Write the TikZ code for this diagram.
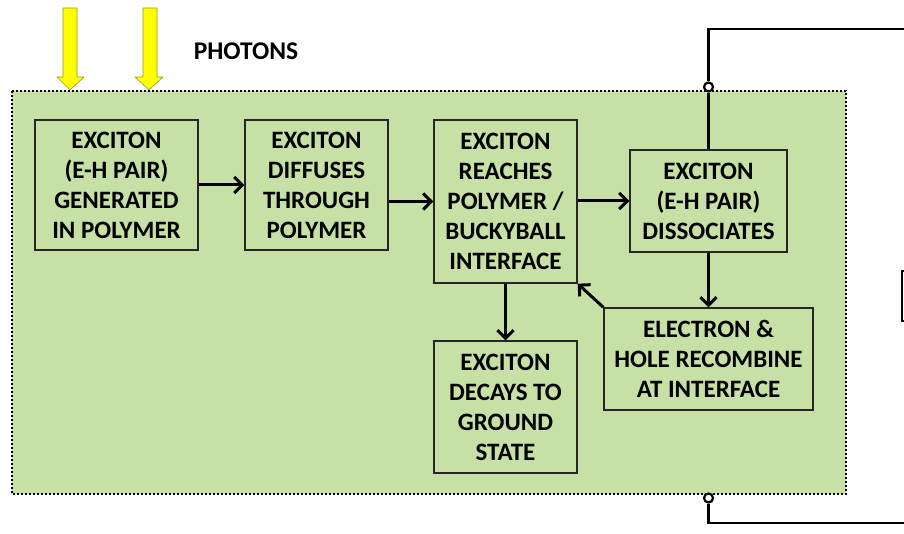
\documentclass[tikz,border=0pt]{standalone}
\usepackage{fontspec}
\setmainfont{Carlito}
\usetikzlibrary{arrows.meta}
\definecolor{panelgreen}{HTML}{C6E0A6}
\definecolor{photonyellow}{HTML}{FFFF00}
\definecolor{photonedge}{HTML}{9A9A20}
\tikzset{
  stepbox/.style={draw=black!85, line width=1.4pt, fill=panelgreen, align=center,
    inner sep=0pt, font=\fontsize{25}{30}\selectfont\bfseries},
  flow/.style={line width=3pt, -{Straight Barb[length=8pt,width=16pt,line width=3pt]}},
  wire/.style={line width=2.6pt},
  terminal/.style={circle, draw=black, line width=2.2pt, fill=white, minimum size=9pt, inner sep=0pt},
  photon/.style={fill=photonyellow, draw=photonedge, line width=0.6pt}
}
\begin{document}
\begin{tikzpicture}[x=1pt,y=-1pt]
\useasboundingbox (0,0) rectangle (904,534);
% panel
\fill[panelgreen] (12,91) rectangle (846,494);
\draw[line width=2.6pt, dash pattern=on 2pt off 2pt] (12,91) rectangle (846,494);
% photons
\draw[photon] (63,8) -- (77,8) -- (77,77) -- (84,77) -- (70,90) -- (57,77) -- (63,77) -- cycle;
\draw[photon] (143,8) -- (157,8) -- (157,77) -- (163,77) -- (149,90) -- (135,77) -- (143,77) -- cycle;
\node[font=\fontsize{25.5}{30}\selectfont\bfseries, anchor=center] (ph) at (246,51) {PHOTONS};
% boxes
\node[stepbox, minimum width=163pt, minimum height=130pt] (b1) at (116.5,185) {EXCITON\\(E-H PAIR)\\GENERATED\\IN POLYMER};
\node[stepbox, minimum width=143pt, minimum height=130pt] (b2) at (316.5,185) {EXCITON\\DIFFUSES\\THROUGH\\POLYMER};
\node[stepbox, minimum width=143pt, minimum height=163pt] (b3) at (505.5,201.5) {EXCITON\\REACHES\\POLYMER /\\BUCKYBALL\\INTERFACE};
\node[stepbox, minimum width=157pt, minimum height=102pt] (b4) at (708.5,201) {EXCITON\\(E-H PAIR)\\DISSOCIATES};
\node[stepbox, minimum width=209pt, minimum height=102pt] (b5) at (708.5,359) {ELECTRON \&\\HOLE RECOMBINE\\AT INTERFACE};
\node[stepbox, minimum width=143pt, minimum height=132pt] (b6) at (505.5,407) {EXCITON\\DECAYS TO\\GROUND\\STATE};
% flow arrows
\draw[flow] (b1.east) -- (b2.west);
\draw[flow] (b2.east |- b3.west) -- (b3.west);
\draw[flow] (b3.east |- b4.west) -- (b4.west);
\draw[flow] (b4.south) -- (b5.north);
\draw[flow] (b5.north west) -- (b3.south east);
\draw[flow] (b3.south) -- (b6.north);
% external circuit
\node[terminal] (t1) at (708.5,87) {};
\node[terminal] (t2) at (708.5,498) {};
\coordinate (topend) at (905,29);
\coordinate (botend) at (905,523);
\draw[wire] (b4.north) -- (t1.south);
\draw[wire] (t1.north) |- (topend);
\draw[wire] (t2.south) |- (botend);
% partial load box at right edge
\draw[line width=2.8pt] (906,271) -- (902,271) -- (902,321) -- (906,321);
\end{tikzpicture}
\end{document}
